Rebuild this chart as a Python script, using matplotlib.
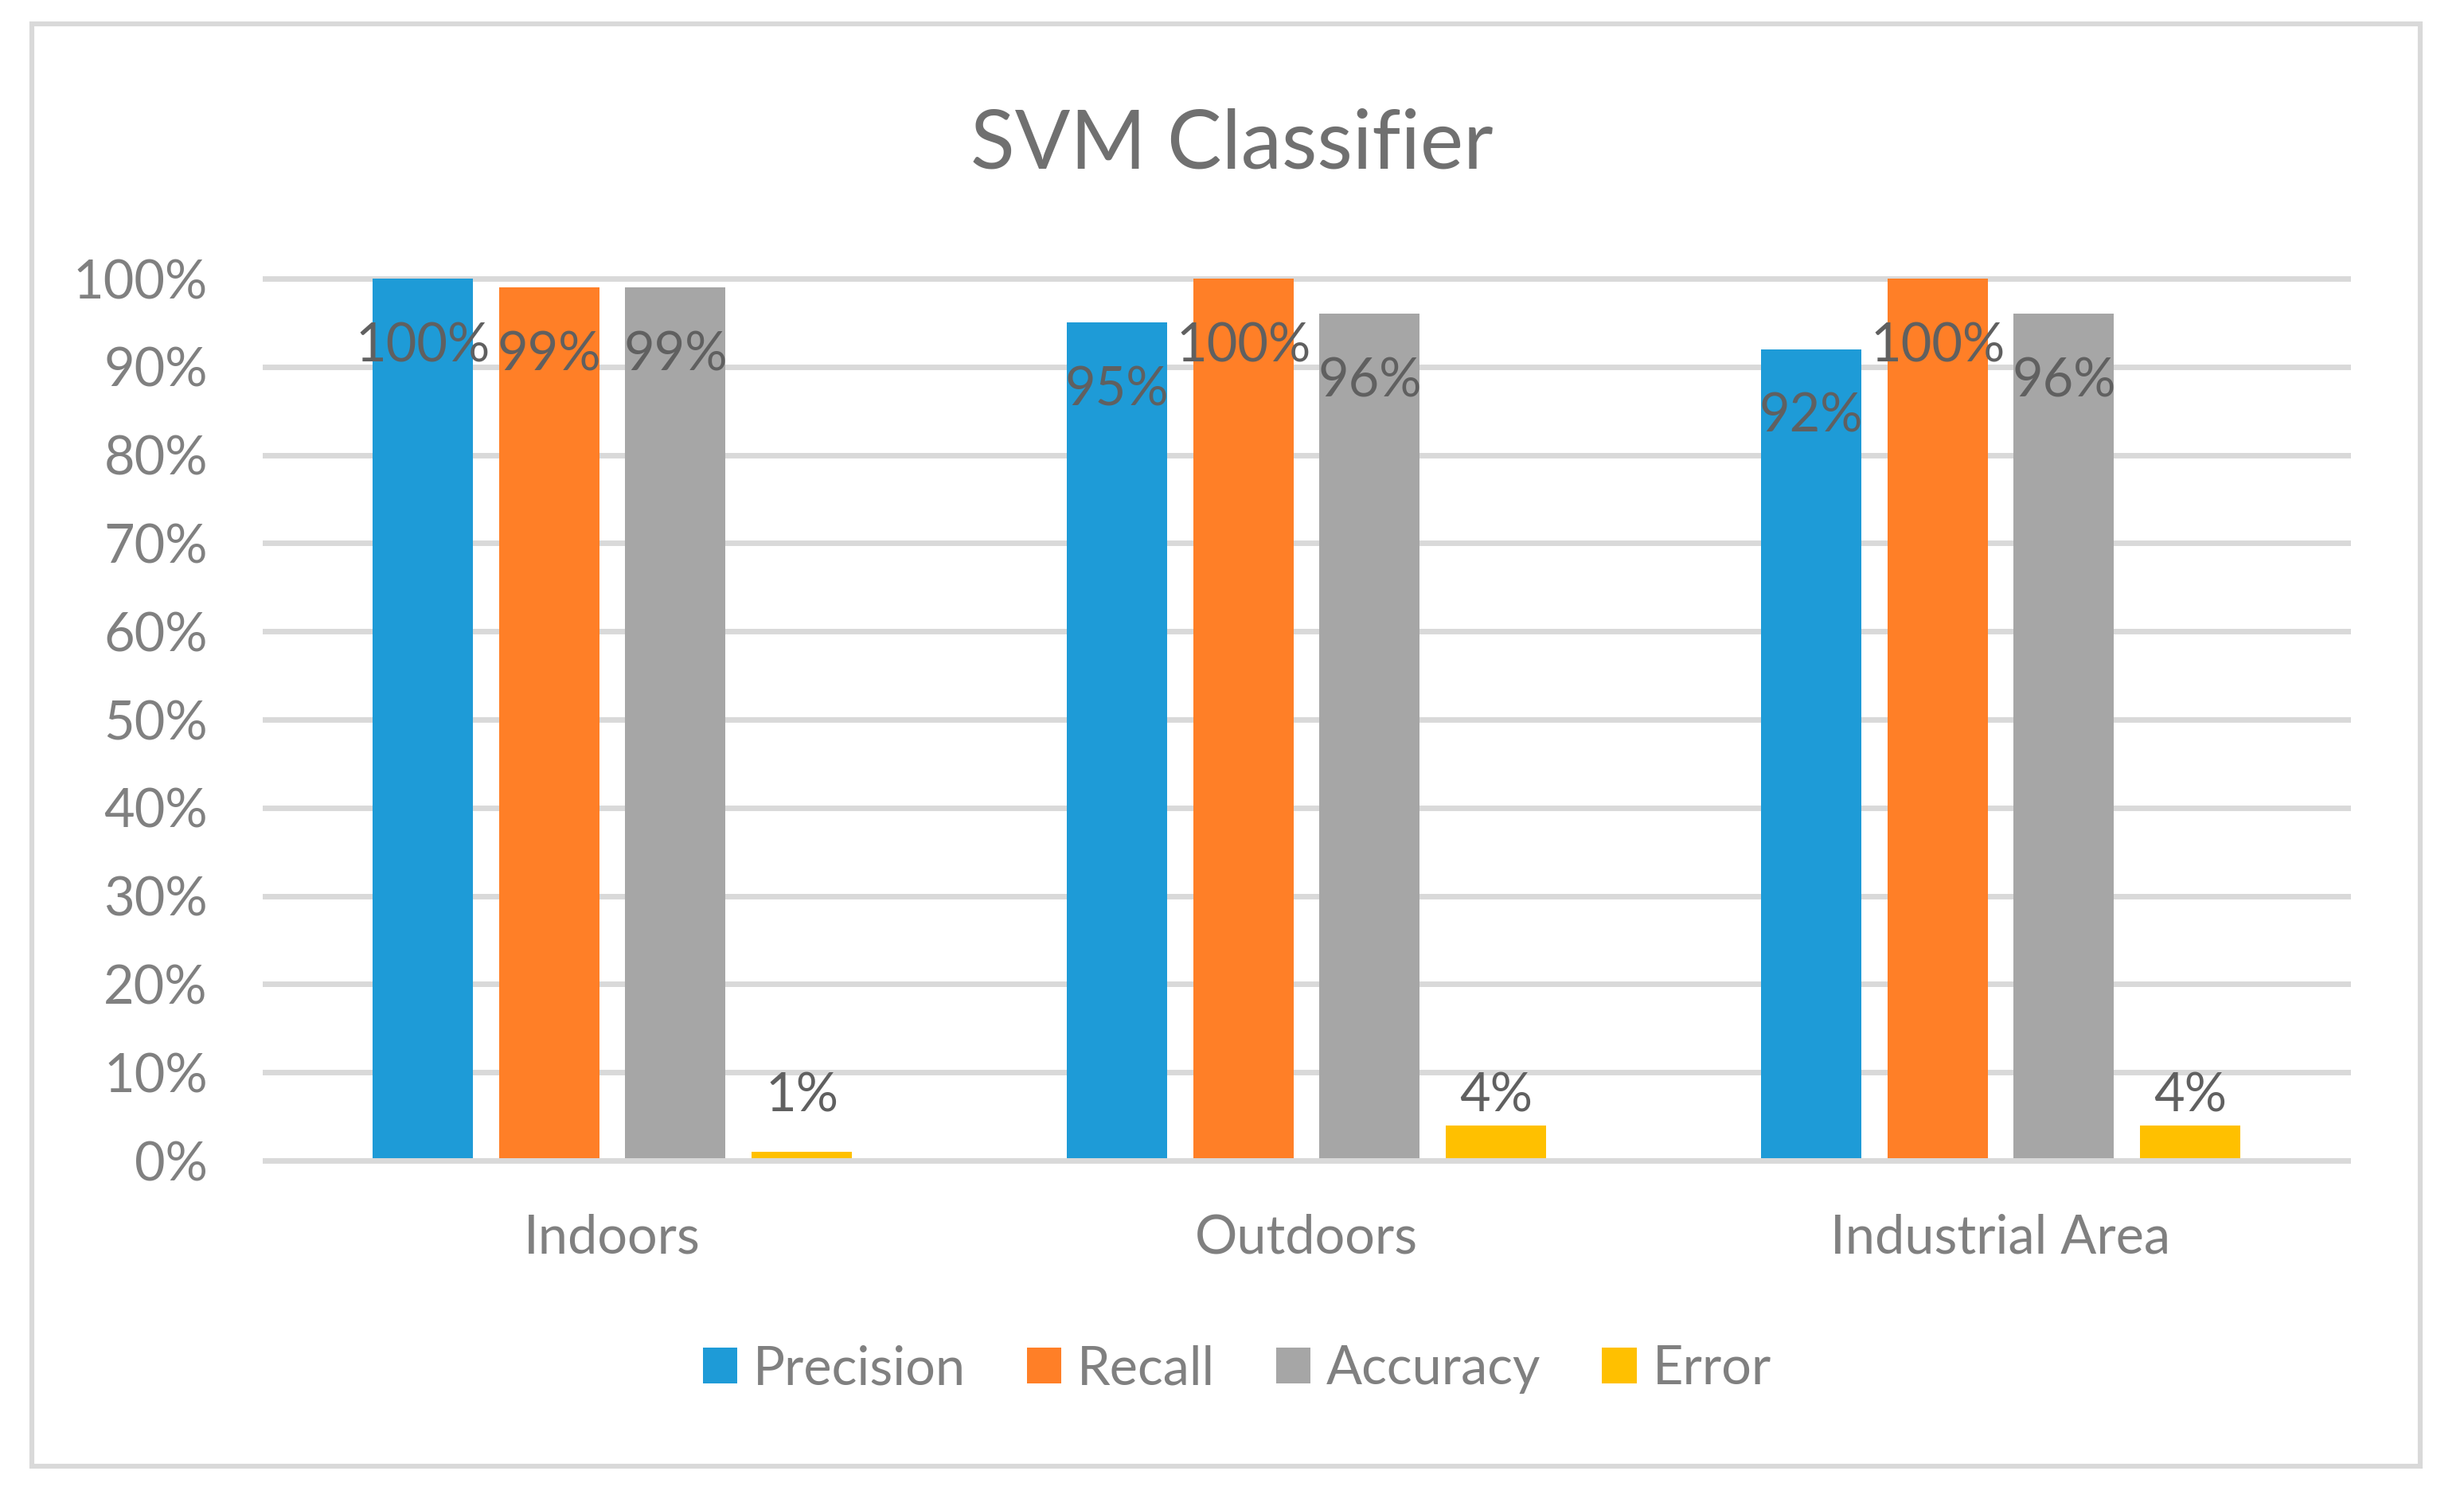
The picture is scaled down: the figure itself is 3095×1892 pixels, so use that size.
import matplotlib
matplotlib.use("Agg")
import matplotlib.pyplot as plt
from matplotlib.patches import Rectangle
from matplotlib.ticker import PercentFormatter
import numpy as np

categories = ["Indoors", "Outdoors", "Industrial Area"]
series_names = ["Precision", "Recall", "Accuracy", "Error"]
precision = [1.00, 0.95, 0.92]
recall = [0.99, 1.00, 1.00]
accuracy = [0.99, 0.96, 0.96]
error = [0.01, 0.04, 0.04]
label_texts = [["100%", "95%", "92%"], ["99%", "100%", "100%"],
               ["99%", "96%", "96%"], ["1%", "4%", "4%"]]
colors = ["#1E9BD7", "#FF7F27", "#A6A6A6", "#FFC000"]
yticks = [0, 0.1, 0.2, 0.3, 0.4, 0.5, 0.6, 0.7, 0.8, 0.9, 1.0]

plt.rcParams['font.family'] = ['Lato', 'DejaVu Sans']

W, H, DPI = 3095, 1892, 200
fig = plt.figure(figsize=(W / DPI, H / DPI), dpi=DPI)

# outer border
fig.patches.append(Rectangle((40 / W, 1 - 1842 / H), (3040 - 40) / W, (1842 - 30) / H,
                             transform=fig.transFigure, fill=False,
                             edgecolor="#D9D9D9", linewidth=2.2))

y0_px, y100_px = 1458, 350
unit = y0_px - y100_px
ytop = 1.01
ax_top_px = y0_px - ytop * unit
ax = fig.add_axes([333 / W, 1 - y0_px / H, (2949 - 333) / W, (y0_px - ax_top_px) / H])

x = np.arange(len(categories))
width = 0.1445
step = 0.182
all_series = [precision, recall, accuracy, error]
for i, (vals, c) in enumerate(zip(all_series, colors)):
    off = (i - 1.5) * step
    ax.bar(x + off, vals, width, color=c, label=series_names[i], zorder=2)
    for j, v in enumerate(vals):
        ly = v - 0.077 if v > 0.5 else 0.073
        ax.text(x[j] + off, ly, label_texts[i][j], ha="center", va="center",
                fontsize=24, color="#606060", zorder=4)

ax.set_xlim(-0.5, 2.5)
ax.set_ylim(0, ytop)
ax.set_yticks(yticks)
ax.yaxis.set_major_formatter(PercentFormatter(1.0, decimals=0))
ax.set_xticks(x)
ax.set_xticklabels(categories)
ax.tick_params(axis="y", length=0, pad=26, labelsize=24, labelcolor="#808080")
ax.tick_params(axis="x", length=0, pad=24, labelsize=24, labelcolor="#808080")
for s in ax.spines.values():
    s.set_visible(False)
ax.set_axisbelow(True)
for yv in yticks[1:]:
    ax.axhline(yv, color="#D9D9D9", linewidth=2.5, zorder=1, clip_on=False)
ax.axhline(0, color="#D9D9D9", linewidth=2.5, zorder=3, clip_on=False)

fig.text(0.5, 1 - 183 / H, "SVM Classifier", ha="center", va="center",
         fontsize=37, color="#707070")

handles, labels = ax.get_legend_handles_labels()
leg = fig.legend(handles, labels, loc="center", bbox_to_anchor=(0.502, 1 - 1720 / H),
                 ncol=4, frameon=False, fontsize=24, handlelength=0.65,
                 handleheight=0.65, handletextpad=0.3, columnspacing=1.15)
for t in leg.get_texts():
    t.set_color("#808080")

fig.savefig("out.png", dpi=DPI, facecolor="white")
